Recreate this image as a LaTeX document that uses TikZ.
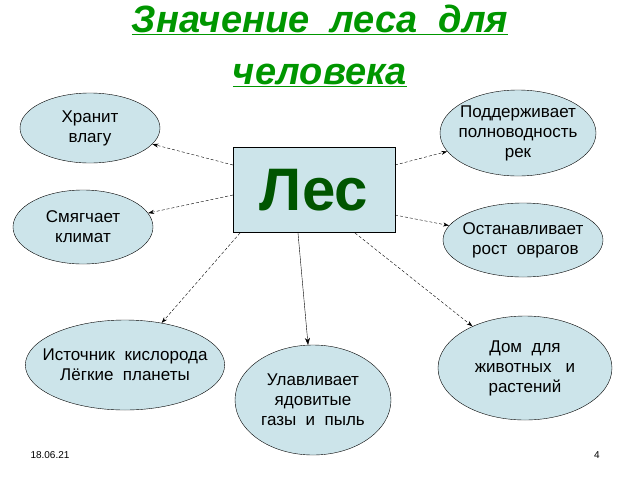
\documentclass[tikz,border=0pt]{standalone}
\usepackage{fontspec}
\setmainfont{Liberation Sans}
\usetikzlibrary{arrows.meta,shapes.geometric}
\definecolor{fillc}{RGB}{204,228,234}
\definecolor{titleg}{RGB}{0,150,0}
\definecolor{lesg}{RGB}{0,85,0}
\begin{document}
\begin{tikzpicture}[x=1pt,y=-1pt,
  ell/.style={draw=black,fill=fillc,ellipse,inner sep=-12pt,align=center,font=\fontsize{17}{20}\selectfont},
  con/.style={densely dashed,-{Stealth[length=6pt,width=4pt]}},
  conl/.style={-{Stealth[length=7pt,width=5pt]}},
  ttl/.style={font=\bfseries\itshape\fontsize{38}{40}\selectfont,text=titleg}]
\useasboundingbox (0,0) rectangle (640,480);
\node[ttl] (t1) at (320,20) {\underline{Значение\ \ леса\ \ для}};
\node[ttl] (t2) at (320,75) {\underline{человека}};
\node[draw=black,fill=fillc,minimum width=162,minimum height=85,font=\bfseries\fontsize{60}{62}\selectfont,text=lesg] (les) at (314,190) {Лес};
\node[ell,minimum width=140,minimum height=70] (e1) at (90,128) {Хранит\\влагу};
\node[ell,minimum width=140,minimum height=74] (e2) at (83,227) {Смягчает\\климат};
\node[ell,minimum width=186,minimum height=90] (e3) at (125,365) {Источник\ \ кислорода\\Лёгкие\ \ планеты};
\node[ell,minimum width=156,minimum height=110] (e4) at (313,400) {Улавливает\\ядовитые\\газы\ \ и\ \ пыль};
\node[ell,minimum width=174,minimum height=104] (e5) at (525,368) {Дом\ \ для\\животных\ \ \ и\\растений};
\node[ell,minimum width=160,minimum height=74] (e6) at (523,240) {Останавливает\\\ рост\ \ оврагов};
\node[ell,minimum width=156,minimum height=86] (e7) at (518,133) {Поддерживает\\полноводность\\рек};
\coordinate (s1) at (233,165);
\coordinate (s2) at (233,195);
\coordinate (s3) at (240,233);
\coordinate (s4) at (298,233);
\coordinate (s5) at (355,233);
\coordinate (s6) at (395,215);
\coordinate (s7) at (395,165);
\draw[con] (s1) -- (e1);
\draw[con] (s2) -- (e2);
\draw[con] (s3) -- (e3);
\draw[conl] (s4) -- (e4);
\draw[con] (s5) -- (e5);
\draw[con] (s6) -- (e6);
\draw[con] (s7) -- (e7);
\node[font=\fontsize{10}{12}\selectfont] (d) at (50,455) {18.06.21};
\node[font=\fontsize{10}{12}\selectfont] (p) at (597,455) {4};
\end{tikzpicture}
\end{document}
